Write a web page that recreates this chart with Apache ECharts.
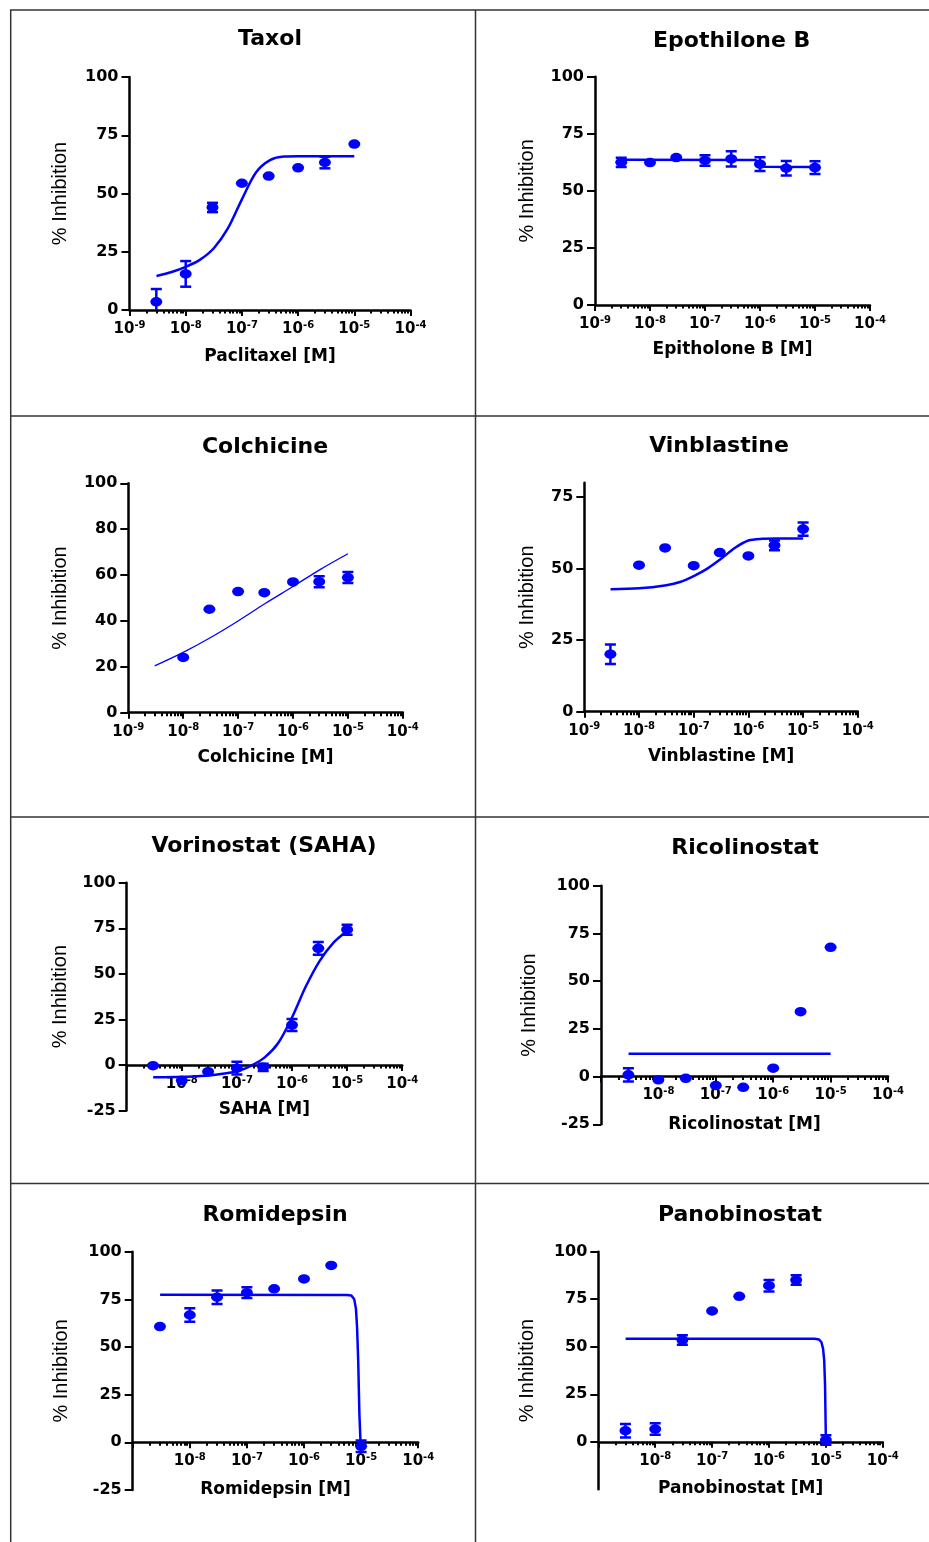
<!DOCTYPE html>
<html>
<head>
<meta charset="utf-8">
<script src="https://cdn.jsdelivr.net/npm/echarts@6/dist/echarts.min.js"></script>
<style>
  html, body { margin: 0; padding: 0; background: #fff; }
  #main { width: 929px; height: 1542px; }
</style>
</head>
<body>
<div id="main"></div>
<script>
// concentrations tested (M)
var doses = [3e-9, 1e-8, 3e-8, 1e-7, 3e-7, 1e-6, 3e-6, 1e-5];
var colchicineDoses = [1e-8, 3e-8, 1e-7, 3e-7, 1e-6, 3e-6, 1e-5];
// x tick labels, as powers of ten
var decades = [-9, -8, -7, -6, -5, -4];
var decadesNoFirst = [-8, -7, -6, -5, -4];

// mean % inhibition and error (+/-) per dose, fitted curve (x = log10 M)
var taxolMean = [3.5, 15.5, 44, 54.4, 57.5, 61, 63.3, 71.2];
var taxolErr = [5.5, 5.5, 2, 0, 0, 0, 2.5, 0];
var taxolFitX = [-8.52, -8.25, -8, -7.75, -7.5, -7.25, -7, -6.75, -6.5, -6.25, -6, -5.5, -5];
var taxolFitY = [14.6, 16.3, 18.5, 21.5, 26.5, 35, 47.5, 59, 64.3, 65.9, 66, 66, 66];

var epoMean = [62.5, 62.4, 64.6, 63.3, 64, 61.7, 59.9, 60.2];
var epoErr = [2, 0, 0, 2.3, 3.3, 3, 3.2, 2.8];
var epoFitX = [-8.52, -6.08, -6.0, -5.92, -5];
var epoFitY = [63.6, 63.5, 62, 60.6, 60.5];

var colMean = [24.1, 45.1, 52.8, 52.3, 57, 57.1, 58.9];
var colErr = [0, 0, 0, 0, 0, 2.4, 2.4];
var colFitX = [-8.52, -8, -7.5, -7, -6.5, -6, -5.5, -5];
var colFitY = [20.4, 26.3, 32.8, 40, 47.7, 55, 62.5, 69.3];

var vinMean = [20.1, 51.2, 57.2, 51.0, 55.6, 54.4, 58.1, 63.8];
var vinErr = [3.4, 0, 0, 0, 0, 0, 1.7, 2.3];
var vinFitX = [-8.52, -8, -7.5, -7.25, -7, -6.75, -6.5, -6.25, -6, -5.75, -5.5, -5];
var vinFitY = [42.8, 43.1, 44.2, 45.3, 47.4, 50, 53.4, 57.2, 59.8, 60.4, 60.5, 60.5];

var sahaMean = [-0.4, -8.6, -3.7, -1.8, -1.3, 21.9, 64, 74.2];
var sahaErr = [0, 0, 0, 3.5, 2, 3.3, 3.5, 2.7];
var sahaFitX = [-8.52, -8, -7.5, -7, -6.75, -6.5, -6.25, -6, -5.75, -5.5, -5.25, -5];
var sahaFitY = [-6.8, -6.5, -5.8, -3.5, -0.5, 4, 12, 26, 43, 57, 67, 73.5];

var ricoMean = [0.9, -1.7, -0.9, -4.7, -5.6, 4.4, 34, 67.7];
var ricoErr = [3.5, 0, 0, 0, 0, 0, 0, 0];
var ricoFitX = [-8.52, -5];
var ricoFitY = [12, 12];

var romiMean = [60.7, 66.8, 76.1, 78.5, 80.5, 85.7, 92.8, -2.1];
var romiErr = [0, 3.5, 3.5, 2.8, 0, 0, 0, 3];
var romiFitX = [-8.52, -5.25, -5.17, -5.12, -5.09, -5.07, -5.05, -5.03, -5.01, -5.0];
var romiFitY = [77.4, 77.3, 77.0, 75, 70, 60, 42, 15, 0, -2];

var panoMean = [5.8, 6.7, 53.5, 68.8, 76.5, 82.1, 85.1, 0.9];
var panoErr = [3.5, 3, 2.5, 0, 0, 3, 2.5, 2.5];
var panoFitX = [-8.52, -5.2, -5.12, -5.08, -5.05, -5.03, -5.015, -5.005, -5.0];
var panoFitY = [54.2, 54.2, 53.8, 52.5, 49, 43, 30, 10, 0];

// y tick labels
var yTicks25 = [0, 25, 50, 75, 100];
var yTicks20 = [0, 20, 40, 60, 80, 100];
var yTicksVin = [0, 25, 50, 75];
var yTicksNeg = [-25, 0, 25, 50, 75, 100];

var BLUE = '#0000ff';
var BOLD = 'DejaVu Sans';

// log minor ticks 2..9 inside each decade
var minorTicks = [];
for (var n = -9; n < -4; n++) {
  for (var k = 2; k <= 9; k++) minorTicks.push(n + Math.log10(k));
}

var panels = [
  { title: 'Taxol', xName: 'Paclitaxel [M]', doses: doses, mean: taxolMean, err: taxolErr,
    fitX: taxolFitX, fitY: taxolFitY, smooth: true, yMin: 0, yMax: 100, yTicks: yTicks25, xLabels: decades,
    box: [129.5, 77, 281, 233], titleAt: [270, 39], yGap: 59, xGap: 38.5 },
  { title: 'Epothilone B', xName: 'Epitholone B [M]', doses: doses, mean: epoMean, err: epoErr,
    fitX: epoFitX, fitY: epoFitY, smooth: false, yMin: 0, yMax: 100, yTicks: yTicks25, xLabels: decades,
    box: [595, 76.7, 275, 228.3], titleAt: [731.7, 41], yGap: 57.5, xGap: 36.5 },
  { title: 'Colchicine', xName: 'Colchicine [M]', doses: colchicineDoses, mean: colMean, err: colErr,
    fitX: colFitX, fitY: colFitY, smooth: true, thin: true, yMin: 0, yMax: 100, yTicks: yTicks20, xLabels: decades,
    box: [128.3, 483.3, 274.5, 229.4], titleAt: [265, 447], yGap: 57.5, xGap: 36.8 },
  { title: 'Vinblastine', xName: 'Vinblastine [M]', doses: doses, mean: vinMean, err: vinErr,
    fitX: vinFitX, fitY: vinFitY, smooth: true, yMin: 0, yMax: 80, yTicks: yTicksVin, xLabels: decades,
    box: [584.3, 482.7, 273.5, 229], titleAt: [719, 446.7], yGap: 47, xGap: 36.5 },
  { title: 'Vorinostat (SAHA)', xName: 'SAHA [M]', doses: doses, mean: sahaMean, err: sahaErr,
    fitX: sahaFitX, fitY: sahaFitY, smooth: true, yMin: -25, yMax: 100, yTicks: yTicksNeg, xLabels: decadesNoFirst,
    box: [126.7, 882.7, 275.5, 227.8], titleAt: [264, 846.7], yGap: 56.5, xGap: 36.5 },
  { title: 'Ricolinostat', xName: 'Ricolinostat [M]', doses: doses, mean: ricoMean, err: ricoErr,
    fitX: ricoFitX, fitY: ricoFitY, smooth: false, yMin: -25, yMax: 100, yTicks: yTicksNeg, xLabels: decadesNoFirst,
    box: [601, 885.7, 287, 238.6], titleAt: [745, 848.3], yGap: 62, xGap: 39 },
  { title: 'Romidepsin', xName: 'Romidepsin [M]', doses: doses, mean: romiMean, err: romiErr,
    fitX: romiFitX, fitY: romiFitY, smooth: false, yMin: -25, yMax: 100, yTicks: yTicksNeg, xLabels: decadesNoFirst,
    box: [132.7, 1251.7, 285.5, 238.3], titleAt: [275, 1215], yGap: 61, xGap: 38.8 },
  { title: 'Panobinostat', xName: 'Panobinostat [M]', doses: doses, mean: panoMean, err: panoErr,
    fitX: panoFitX, fitY: panoFitY, smooth: false, yMin: -25, yMax: 100, yTicks: yTicks25, xLabels: decadesNoFirst,
    box: [598.3, 1251.7, 284.5, 237.6], titleAt: [740, 1215], yGap: 61, xGap: 38 }
];

var grid = [], xAxis = [], yAxis = [], series = [], graphic = [];

function errorBars(params, api) {
  var x = api.value(0);
  var top = api.coord([x, api.value(2)]);
  var bot = api.coord([x, api.value(1)]);
  var w = 5.5;
  var st = { stroke: BLUE, lineWidth: 2.5 };
  return {
    type: 'group',
    children: [
      { type: 'line', shape: { x1: top[0], y1: top[1], x2: bot[0], y2: bot[1] }, style: st },
      { type: 'line', shape: { x1: top[0] - w, y1: top[1], x2: top[0] + w, y2: top[1] }, style: st },
      { type: 'line', shape: { x1: bot[0] - w, y1: bot[1], x2: bot[0] + w, y2: bot[1] }, style: st }
    ]
  };
}

panels.forEach(function (p, i) {
  grid.push({ left: p.box[0], top: p.box[1], width: p.box[2], height: p.box[3], containLabel: false });

  // x axis sits on y = 0: shift it up from the grid bottom by the part of the range below zero
  var lift = -p.box[3] * (0 - p.yMin) / (p.yMax - p.yMin);

  xAxis.push({
    gridIndex: i, type: 'value', min: -9, max: -4, position: 'bottom', offset: lift,
    name: p.xName, nameLocation: 'middle', nameGap: p.xGap,
    nameTextStyle: { color: '#000', fontFamily: BOLD, fontWeight: 'bold', fontSize: 17 },
    axisLine: { onZero: false, lineStyle: { color: '#000', width: 2.5 } },
    axisTick: { customValues: decades, length: 6, lineStyle: { color: '#000', width: 2 } },
    axisLabel: {
      customValues: p.xLabels, margin: 10, color: '#000',
      formatter: function (v) { return '{b|10}{s|' + v + '}'; },
      rich: {
        b: { fontFamily: BOLD, fontWeight: 'bold', fontSize: 15, lineHeight: 18, color: '#000' },
        s: { fontFamily: BOLD, fontWeight: 'bold', fontSize: 10, lineHeight: 12, verticalAlign: 'top', color: '#000' }
      }
    },
    splitLine: { show: false }
  });
  xAxis.push({
    gridIndex: i, type: 'value', min: -9, max: -4, position: 'bottom', offset: lift,
    axisLine: { show: false, onZero: false },
    axisTick: { customValues: minorTicks, length: 3.5, lineStyle: { color: '#000', width: 2 } },
    axisLabel: { show: false },
    splitLine: { show: false }
  });

  yAxis.push({
    gridIndex: i, type: 'value', min: p.yMin, max: p.yMax,
    name: '% Inhibition', nameLocation: 'middle', nameGap: p.yGap,
    nameTextStyle: { color: '#000', fontFamily: 'Liberation Sans', fontSize: 20 },
    axisLine: { show: true, onZero: false, lineStyle: { color: '#000', width: 2.5 } },
    axisTick: { show: true, customValues: p.yTicks, length: 8, lineStyle: { color: '#000', width: 2 } },
    axisLabel: { customValues: p.yTicks, margin: 11, color: '#000', fontFamily: BOLD, fontWeight: 'bold', fontSize: 16 },
    splitLine: { show: false }
  });

  var pts = p.doses.map(function (d, j) { return [Math.log10(d), p.mean[j]]; });
  var bars = [];
  p.doses.forEach(function (d, j) {
    if (p.err[j] > 0) bars.push([Math.log10(d), p.mean[j] - p.err[j], p.mean[j] + p.err[j]]);
  });

  series.push({
    type: 'line', xAxisIndex: 2 * i, yAxisIndex: i, z: 2, silent: true,
    data: p.fitX.map(function (x, j) { return [x, p.fitY[j]]; }),
    showSymbol: false, symbol: 'none', smooth: p.smooth ? 0.3 : false,
    lineStyle: { color: BLUE, width: p.thin ? 1.3 : 2.5 }
  });
  series.push({
    type: 'custom', xAxisIndex: 2 * i, yAxisIndex: i, z: 3, silent: true, clip: true,
    renderItem: errorBars, encode: { x: 0, y: [1, 2] }, data: bars
  });
  series.push({
    type: 'scatter', xAxisIndex: 2 * i, yAxisIndex: i, z: 4, silent: true,
    symbol: 'circle', symbolSize: [12, 9.5], itemStyle: { color: BLUE, opacity: 1 },
    data: pts
  });

  graphic.push({
    type: 'text', x: p.titleAt[0], y: p.titleAt[1], silent: true,
    style: { text: p.title, align: 'center', verticalAlign: 'middle', fill: '#000',
      fontFamily: BOLD, fontWeight: 'bold', fontSize: 22 }
  });
});

// panel frame
var frame = { stroke: '#333', lineWidth: 1.5 };
[[10.7, 10, 10.7, 1542], [475.5, 10, 475.5, 1542], [10, 10, 929, 10],
 [10, 416, 929, 416], [10, 817, 929, 817], [10, 1183.5, 929, 1183.5]].forEach(function (s) {
  graphic.push({ type: 'line', silent: true, shape: { x1: s[0], y1: s[1], x2: s[2], y2: s[3] }, style: frame });
});

var chart = echarts.init(document.getElementById('main'), null, { renderer: 'canvas' });
chart.setOption({
  backgroundColor: '#fff',
  animation: false,
  grid: grid,
  xAxis: xAxis,
  yAxis: yAxis,
  series: series,
  graphic: graphic
});
</script>
</body>
</html>
